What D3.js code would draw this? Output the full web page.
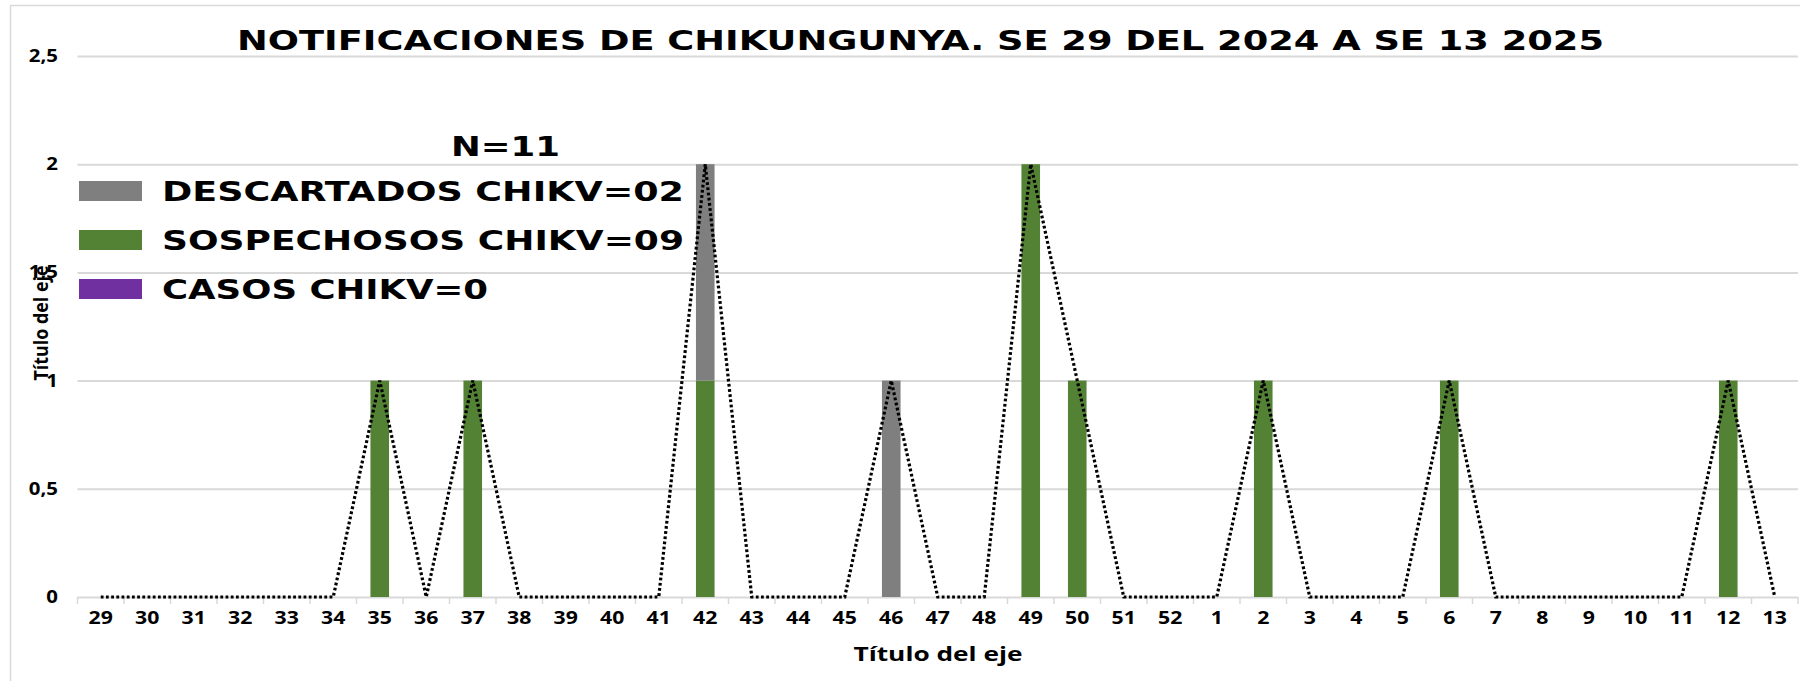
<!DOCTYPE html>
<html>
<head>
<meta charset="utf-8">
<script src="https://cdn.jsdelivr.net/npm/d3@7"></script>
<style>
  body { margin: 0; background: #fff; }
  .lbl { font-family: "Open Sans", "DejaVu Sans", sans-serif; font-weight: bold; }
  .wide { font-family: "DejaVu Sans", Verdana, sans-serif; font-weight: bold; }
</style>
</head>
<body>
<div id="chart"></div>
<script>
// semanas epidemiologicas (SE 29 2024 -> SE 13 2025)
var weeks = ["29","30","31","32","33","34","35","36","37","38","39","40","41","42","43","44","45","46","47","48","49","50","51","52",
             "1","2","3","4","5","6","7","8","9","10","11","12","13"];
var sospechosos = [0,0,0,0,0,0, 1,0,1, 0,0,0,0, 1, 0,0,0,0,0,0, 2,1, 0,0,0, 1, 0,0,0, 1, 0,0,0,0,0, 1,0];
var descartados = [0,0,0,0,0,0, 0,0,0, 0,0,0,0, 1, 0,0,0,1,0,0, 0,0, 0,0,0, 0, 0,0,0, 0, 0,0,0,0,0, 0,0];
var casos       = [0,0,0,0,0,0, 0,0,0, 0,0,0,0, 0, 0,0,0,0,0,0, 0,0, 0,0,0, 0, 0,0,0, 0, 0,0,0,0,0, 0,0];
var total       = [0,0,0,0,0,0, 1,0,1, 0,0,0,0, 2, 0,0,0,1,0,0, 2,1, 0,0,0, 1, 0,0,0, 1, 0,0,0,0,0, 1,0];
var yTicks = [0, 0.5, 1, 1.5, 2, 2.5];
var legendNames = ["DESCARTADOS CHIKV=02", "SOSPECHOSOS CHIKV=09", "CASOS CHIKV=0"];
var titleText = "NOTIFICACIONES DE CHIKUNGUNYA. SE 29 DEL 2024 A SE 13 2025";

var W = 1812, H = 681;
var colors = { sosp: "#548235", desc: "#7f7f7f", casos: "#7030a0" };

var svg = d3.select("#chart").append("svg")
  .attr("width", W).attr("height", H);

// chart border
svg.append("path")
  .attr("d", "M10.5," + H + "V5.5H1800")
  .attr("fill", "none").attr("stroke", "#d9d9d9").attr("stroke-width", 1.5);

var x = d3.scaleBand().domain(weeks).range([77.5, 1798]).paddingInner(0.6).paddingOuter(0.3);
var xb = d3.scaleBand().domain(weeks).range([77.5, 1798]);
var y = d3.scaleLinear().domain([0, 2.5]).range([597, 56]);

// gridlines
svg.append("g")
  .attr("transform", "translate(77.5,0)")
  .call(d3.axisLeft(y).tickValues(yTicks).tickSize(-(1798 - 77.5)).tickFormat(""))
  .call(function (g) { g.select(".domain").remove(); })
  .selectAll("line").attr("stroke", "#d9d9d9").attr("stroke-width", 2);

// y labels
svg.append("g")
  .attr("transform", "translate(58,0)")
  .call(d3.axisLeft(y).tickValues(yTicks).tickSize(0).tickPadding(0)
    .tickFormat(function (d) { return String(d).replace(".", ","); }))
  .call(function (g) { g.select(".domain").remove(); })
  .selectAll("text")
  .attr("class", "lbl")
  .attr("transform", "scale(1.2,1)")
  .style("font-size", "17px").attr("fill", "#000");

// x axis ticks at band edges
var edges = weeks.map(function (w) { return xb(w); }).concat([1798]);
svg.append("g").selectAll("line").data(edges).join("line")
  .attr("x1", function (d) { return d; }).attr("x2", function (d) { return d; })
  .attr("y1", y(0)).attr("y2", y(0) + 7)
  .attr("stroke", "#d9d9d9").attr("stroke-width", 1.5);

svg.append("g")
  .attr("transform", "translate(0," + (y(0) + 6) + ")")
  .call(d3.axisBottom(xb).tickSize(0).tickPadding(9))
  .call(function (g) { g.select(".domain").remove(); })
  .selectAll("text")
  .attr("class", "lbl")
  .attr("transform", "scale(1.25,1)")
  .style("font-size", "17px").attr("fill", "#000");

// stacked bars
var rows = weeks.map(function (w, i) {
  return { week: w, sosp: sospechosos[i], desc: descartados[i], casos: casos[i] };
});
var stack = d3.stack().keys(["sosp", "desc", "casos"])(rows);

svg.append("g").selectAll("g").data(stack).join("g")
  .attr("fill", function (s) { return colors[s.key]; })
  .selectAll("rect").data(function (s) { return s; }).join("rect")
  .attr("x", function (d) { return x(d.data.week); })
  .attr("width", x.bandwidth())
  .attr("y", function (d) { return y(d[1]); })
  .attr("height", function (d) { return y(d[0]) - y(d[1]); });

// dotted total line
svg.append("path")
  .datum(total)
  .attr("fill", "none")
  .attr("stroke", "#000")
  .attr("stroke-width", 3.2)
  .attr("stroke-dasharray", "2.8,2.4")
  .attr("d", d3.line()
    .x(function (d, i) { return xb(weeks[i]) + xb.bandwidth() / 2; })
    .y(function (d) { return y(d); }));

// title
svg.append("text")
  .attr("class", "wide")
  .attr("x", 237).attr("y", 50)
  .attr("textLength", 1367).attr("lengthAdjust", "spacingAndGlyphs")
  .style("font-size", "27px")
  .text(titleText);

// axis titles
svg.append("text")
  .attr("class", "lbl")
  .attr("transform", "translate(48,323) rotate(-90)")
  .attr("text-anchor", "middle")
  .attr("textLength", 115).attr("lengthAdjust", "spacingAndGlyphs")
  .style("font-size", "19px")
  .text("Título del eje");

svg.append("text")
  .attr("class", "lbl")
  .attr("x", 938).attr("y", 661)
  .attr("text-anchor", "middle")
  .attr("textLength", 169).attr("lengthAdjust", "spacingAndGlyphs")
  .style("font-size", "20px")
  .text("Título del eje");

// legend
svg.append("text")
  .attr("class", "wide")
  .attr("x", 451).attr("y", 156)
  .attr("textLength", 109).attr("lengthAdjust", "spacingAndGlyphs")
  .style("font-size", "27px")
  .text("N=11");

var legColors = [colors.desc, colors.sosp, colors.casos];
var legWidths = [522, 522, 326];
var leg = svg.append("g").selectAll("g").data(legendNames).join("g")
  .attr("transform", function (d, i) { return "translate(79," + (191 + i * 49) + ")"; });
leg.append("rect")
  .attr("x", 0).attr("y", -10).attr("width", 63).attr("height", 20)
  .attr("fill", function (d, i) { return legColors[i]; });
leg.append("text")
  .attr("class", "wide")
  .attr("x", 83).attr("y", 10)
  .attr("textLength", function (d, i) { return legWidths[i]; })
  .attr("lengthAdjust", "spacingAndGlyphs")
  .style("font-size", "27px")
  .text(function (d) { return d; });
</script>
</body>
</html>
